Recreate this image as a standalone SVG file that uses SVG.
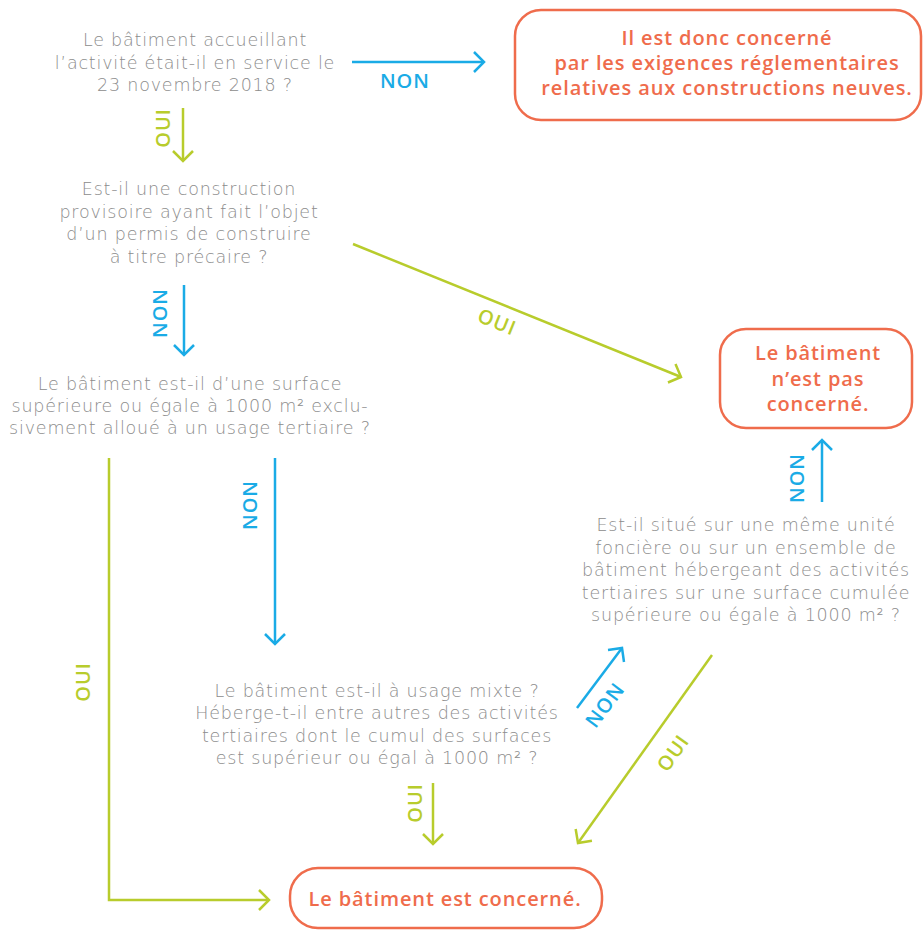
<svg xmlns="http://www.w3.org/2000/svg" width="924" height="930" viewBox="0 0 924 930">
<style>
.q{font-family:"DejaVu Sans","Open Sans",sans-serif;font-weight:200;font-size:17.5px;letter-spacing:0.8px;fill:#8c8c8c;text-anchor:middle}
.r{font-family:"Open Sans","Liberation Sans",sans-serif;font-weight:600;font-size:20px;letter-spacing:0.9px;fill:#ef6c4c;text-anchor:middle}
.box{fill:none;stroke:#ef6c4c;stroke-width:2.5}
.lb{font-family:"Open Sans","Liberation Sans",sans-serif;font-weight:600;font-size:20px;letter-spacing:1px;text-anchor:middle}
.non{fill:#1aabe6}
.oui{fill:#b8cc2c}
.cb{fill:none;stroke:#1aabe6;stroke-width:2.5}
.cg{fill:none;stroke:#b8cc2c;stroke-width:2.5}
</style>
<defs>
<marker id="ab" markerUnits="userSpaceOnUse" markerWidth="26" markerHeight="26" viewBox="-13 -13 26 26" refX="0" refY="0" orient="auto" overflow="visible">
<path d="M-10,-10 L0,0 L-10,10" fill="none" stroke="#1aabe6" stroke-width="2.5"/>
</marker>
<marker id="ag" markerUnits="userSpaceOnUse" markerWidth="26" markerHeight="26" viewBox="-13 -13 26 26" refX="0" refY="0" orient="auto" overflow="visible">
<path d="M-10,-10 L0,0 L-10,10" fill="none" stroke="#b8cc2c" stroke-width="2.5"/>
</marker>
</defs>
<rect width="924" height="930" fill="#fff"/>

<g id="q1">
<text class="q" x="195" y="46">Le bâtiment accueillant</text>
<text class="q" x="195" y="68.5">l’activité était-il en service le</text>
<text class="q" x="195" y="91">23 novembre 2018 ?</text>
</g>
<g id="r-neuves">
<rect class="box" x="515" y="10" width="406" height="110" rx="26"/>
<text class="r" x="727" y="45">Il est donc concerné</text>
<text class="r" x="727" y="70">par les exigences réglementaires</text>
<text class="r" x="727" y="95">relatives aux constructions neuves.</text>
</g>
<g id="q2">
<text class="q" x="189" y="195">Est-il une construction</text>
<text class="q" x="189" y="217.5">provisoire ayant fait l’objet</text>
<text class="q" x="189" y="240">d’un permis de construire</text>
<text class="q" x="189" y="262.5">à titre précaire ?</text>
</g>
<g id="q3">
<text class="q" x="190" y="390">Le bâtiment est-il d’une surface</text>
<text class="q" x="190" y="412">supérieure ou égale à 1000 m² exclu-</text>
<text class="q" x="190" y="434">sivement alloué à un usage tertiaire ?</text>
</g>
<g id="r-pas">
<rect class="box" x="720" y="329" width="192" height="99" rx="26"/>
<text class="r" x="818" y="360">Le bâtiment</text>
<text class="r" x="818" y="386">n’est pas</text>
<text class="r" x="818" y="411">concerné.</text>
</g>
<g id="q4">
<text class="q" x="746" y="531">Est-il situé sur une même unité</text>
<text class="q" x="746" y="553.5">foncière ou sur un ensemble de</text>
<text class="q" x="746" y="576">bâtiment hébergeant des activités</text>
<text class="q" x="746" y="598.5">tertiaires sur une surface cumulée</text>
<text class="q" x="746" y="621">supérieure ou égale à 1000 m² ?</text>
</g>
<g id="q5">
<text class="q" x="377" y="697">Le bâtiment est-il à usage mixte ?</text>
<text class="q" x="377" y="719">Héberge-t-il entre autres des activités</text>
<text class="q" x="377" y="741.5">tertiaires dont le cumul des surfaces</text>
<text class="q" x="377" y="763.5">est supérieur ou égal à 1000 m² ?</text>
</g>
<g id="r-concerne">
<rect class="box" x="290" y="868" width="312" height="60" rx="28"/>
<text class="r" x="445" y="906">Le bâtiment est concerné.</text>
</g>

<g id="connectors">
<line class="cb" x1="352" y1="62" x2="484" y2="62" marker-end="url(#ab)"/>
<text class="lb non" x="405" y="88">NON</text>

<line class="cg" x1="183" y1="108" x2="183" y2="161" marker-end="url(#ag)"/>
<text class="lb oui" transform="translate(163,128) rotate(-90)" y="7">OUI</text>

<line class="cb" x1="184" y1="285" x2="184" y2="355" marker-end="url(#ab)"/>
<text class="lb non" transform="translate(160,313) rotate(-90)" y="7">NON</text>

<line class="cg" x1="353" y1="244" x2="681" y2="377" marker-end="url(#ag)"/>
<text class="lb oui" transform="translate(497,322) rotate(22)" y="7">OUI</text>

<line class="cb" x1="275" y1="458" x2="275" y2="644" marker-end="url(#ab)"/>
<text class="lb non" transform="translate(250,505) rotate(-90)" y="7">NON</text>

<polyline class="cg" points="109,458 109,900 269,900" marker-end="url(#ag)"/>
<text class="lb oui" transform="translate(83,682) rotate(-90)" y="7">OUI</text>

<line class="cb" x1="822" y1="502" x2="822" y2="440" marker-end="url(#ab)"/>
<text class="lb non" transform="translate(797,478) rotate(-90)" y="7">NON</text>

<line class="cg" x1="433" y1="783" x2="433" y2="844" marker-end="url(#ag)"/>
<text class="lb oui" transform="translate(415,803) rotate(-90)" y="7">OUI</text>

<line class="cb" x1="577" y1="708" x2="622" y2="648" marker-end="url(#ab)"/>
<text class="lb non" transform="translate(605,705) rotate(-53)" y="7">NON</text>

<line class="cg" x1="712" y1="655" x2="578" y2="843" marker-end="url(#ag)"/>
<text class="lb oui" transform="translate(673,753) rotate(-54.5)" y="7">OUI</text>
</g>
</svg>
